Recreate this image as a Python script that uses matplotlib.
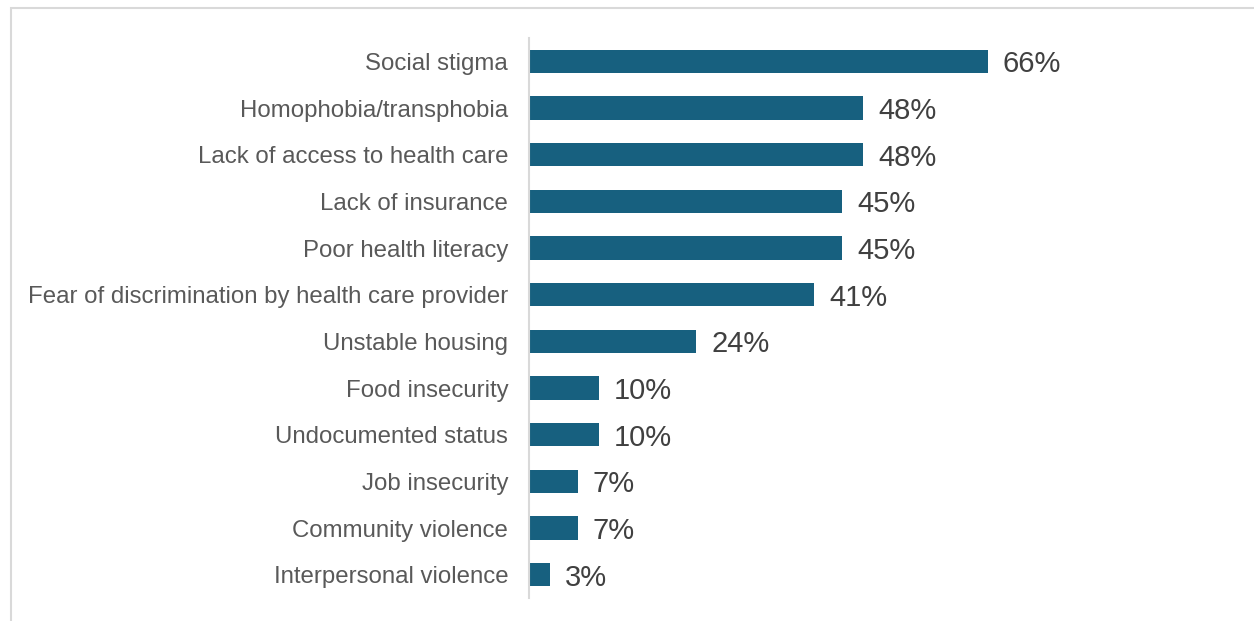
import matplotlib.pyplot as plt
from matplotlib.patches import Rectangle

categories = [
    "Social stigma",
    "Homophobia/transphobia",
    "Lack of access to health care",
    "Lack of insurance",
    "Poor health literacy",
    "Fear of discrimination by health care provider",
    "Unstable housing",
    "Food insecurity",
    "Undocumented status",
    "Job insecurity",
    "Community violence",
    "Interpersonal violence",
]
values = [66, 48, 48, 45, 45, 41, 24, 10, 10, 7, 7, 3]

plt.rcParams['font.family'] = ['Liberation Sans', 'DejaVu Sans']

W, H = 1254, 621
fig = plt.figure(figsize=(W / 100, H / 100), dpi=100)
ax = fig.add_axes([529 / W, 1 - 598 / H, 695 / W, 560 / H])

y = list(range(len(categories)))
ax.barh(y, values, height=0.5, color="#17607F")
for yi, v in zip(y, values):
    ax.text(v + 2.2, yi, f"{v}%", va="center_baseline", ha="left",
            fontsize=21, color="#404040")

ax.set_xlim(0, 100)
ax.set_ylim(len(categories) - 0.5, -0.5)
ax.set_yticks(y)
ax.set_yticklabels(categories, fontsize=17.3, color="#595959")
ax.tick_params(axis="y", length=0, pad=15)
ax.set_xticks([])
for side in ["top", "right", "bottom"]:
    ax.spines[side].set_visible(False)
ax.spines["left"].set_color("#D9D9D9")
ax.spines["left"].set_linewidth(1.5)

# outer frame of the chart area
fig.patches.append(Rectangle((11 / W, -0.1), 1.2, 1 - 8 / H + 0.1,
                             transform=fig.transFigure, fill=False,
                             edgecolor="#D9D9D9", linewidth=1.5))

fig.savefig("out.png", dpi=100)
